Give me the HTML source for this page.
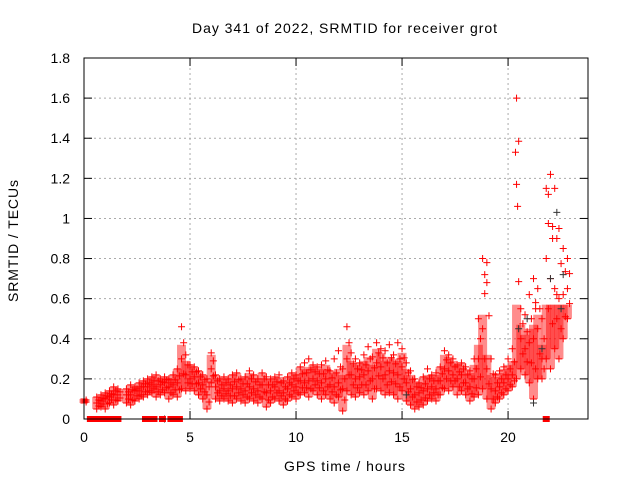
<!DOCTYPE html>
<html><head><meta charset="utf-8"><style>
body{margin:0;background:#fff;}
svg{display:block;font-family:"Liberation Sans",sans-serif;font-size:14px;}
</style></head><body>
<svg id="chart" width="640" height="480">
<text x="192" y="33" textLength="305" lengthAdjust="spacing">Day 341 of 2022, SRMTID for receiver grot</text>
<text transform="translate(18,302) rotate(-90)" textLength="122" lengthAdjust="spacing">SRMTID / TECUs</text>
<text x="284" y="471" textLength="121" lengthAdjust="spacing">GPS time / hours</text>
<g id="grid"></g><g id="band"></g><g id="marks"></g><g id="axes"></g>
</svg>
<script>
const times=[0,0.2,0.4,0.6,0.8,1.0,1.2,1.4,1.6,1.8,2.0,2.2,2.4,2.6,2.8,3.0,3.2,3.4,3.6,3.8,4.0,4.2,4.4,4.6,4.8,5.0,5.2,5.4,5.6,5.8,6.0,6.2,6.4,6.6,6.8,7.0,7.2,7.4,7.6,7.8,8.0,8.2,8.4,8.6,8.8,9.0,9.2,9.4,9.6,9.8,10.0,10.2,10.4,10.6,10.8,11.0,11.2,11.4,11.6,11.8,12.0,12.2,12.4,12.6,12.8,13.0,13.2,13.4,13.6,13.8,14.0,14.2,14.4,14.6,14.8,15.0,15.2,15.4,15.6,15.8,16.0,16.2,16.4,16.6,16.8,17.0,17.2,17.4,17.6,17.8,18.0,18.2,18.4,18.6,18.8,19.0,19.2,19.4,19.6,19.8,20.0,20.2,20.4,20.6,20.8,21.0,21.2,21.4,21.6,21.8,22.0,22.2,22.4,22.6,22.8];
const lowVals=[.08,null,null,.05,.06,.05,.08,.07,.09,null,.08,.07,.09,.10,.11,.12,.13,.11,.12,.13,.10,.12,.11,.15,.14,.15,.14,.12,.10,.05,.18,.10,.09,.10,.09,.08,.10,.09,.08,.10,.09,.08,.10,.06,.08,.10,.09,.07,.09,.11,.10,.12,.13,.11,.14,.12,.10,.12,.10,.08,.11,.04,.14,.12,.11,.13,.12,.14,.10,.15,.14,.12,.13,.12,.10,.14,.09,.07,.05,.06,.07,.09,.10,.09,.12,.15,.14,.16,.12,.14,.12,.09,.11,.12,.15,.10,.05,.08,.10,.12,.14,.16,.20,.25,.22,.18,.10,.20,.20,.30,.25,.35,.30,.40,.50];
const midVals=[.09,null,null,.08,.09,.10,.11,.12,.12,null,.12,.12,.14,.14,.16,.16,.17,.16,.17,.18,.16,.17,.18,.30,.22,.20,.21,.18,.17,.12,.25,.16,.14,.15,.14,.15,.16,.15,.14,.16,.15,.14,.17,.13,.14,.16,.14,.13,.15,.17,.16,.19,.18,.19,.20,.19,.18,.20,.17,.16,.18,.15,.30,.22,.20,.21,.22,.24,.20,.28,.26,.22,.24,.23,.22,.26,.18,.15,.12,.13,.14,.15,.16,.15,.19,.25,.24,.22,.20,.22,.18,.16,.20,.30,.45,.25,.15,.14,.16,.18,.20,.22,1.17,.40,.35,.38,.40,.45,.30,.80,.70,.65,.60,.62,.65];
const highVals=[.10,null,null,.11,.12,.13,.14,.16,.15,null,.15,.17,.16,.18,.19,.20,.21,.22,.20,.21,.20,.22,.25,.46,.32,.27,.26,.24,.22,.20,.33,.22,.20,.21,.20,.22,.23,.20,.21,.24,.22,.20,.23,.21,.20,.21,.22,.19,.21,.23,.22,.26,.28,.30,.27,.26,.27,.29,.24,.30,.34,.25,.46,.33,.30,.28,.32,.36,.31,.38,.35,.34,.37,.32,.38,.35,.28,.24,.20,.18,.21,.25,.22,.23,.26,.34,.32,.30,.27,.28,.26,.24,.30,.50,.80,.78,.30,.22,.24,.26,.30,.35,1.60,.55,.52,.62,.70,.65,.50,1.15,1.22,1.15,.95,.85,.80];
const extraT=[20.35,20.45,21.9,22.1,22.3,18.9,19.0,21.3];
const extraV=[1.33,1.06,1.12,0.90,0.62,0.72,0.68,0.58];
const zeroT=[0.3,0.5,0.7,1.0,1.3,1.6,2.9,3.1,3.3,3.7,4.1,4.3,4.5,21.8];
const darkT=[20.5,20.9,21.2,21.6,22.0,22.3,22.5,22.6,3.8,15.2];
const darkV=[0.45,0.50,0.08,0.35,0.70,1.03,0.55,0.72,0.0,0.12];
const yTicks=[0,0.2,0.4,0.6,0.8,1,1.2,1.4,1.6,1.8];
const xTicks=[0,5,10,15,20];
const yTickLabels=["0","0.2","0.4","0.6","0.8","1","1.2","1.4","1.6","1.8"];
const xTickLabels=["0","5","10","15","20"];

const L=84,R=588,T=58,B=419,XMAX=23.77;
const X=v=>L+v/XMAX*(R-L);
const Y=v=>B-v/1.8*(B-T);
const NS="http://www.w3.org/2000/svg";
function mk(tag,attrs,parent){const e=document.createElementNS(NS,tag);for(const k in attrs)e.setAttribute(k,attrs[k]);document.getElementById(parent).appendChild(e);return e;}
yTicks.forEach((v,i)=>{
  if(i>0&&i<yTicks.length-1){const g=mk('line',{x1:L,x2:R,y1:Y(v),y2:Y(v),stroke:'#aaa','stroke-dasharray':'2,3'},'grid');
  
  }
  const t=mk('text',{x:L-14,y:Y(v)+5,'text-anchor':'end'},'axes');t.textContent=yTickLabels[i];
  
  
  mk('line',{x1:L,x2:L+8,y1:Y(v),y2:Y(v),stroke:'#000'},'axes');
  mk('line',{x1:R,x2:R-8,y1:Y(v),y2:Y(v),stroke:'#000'},'axes');
});
xTicks.forEach((v,i)=>{
  if(i>0){const g=mk('line',{x1:X(v),x2:X(v),y1:T,y2:B,stroke:'#aaa','stroke-dasharray':'2,3'},'grid');
  
  }
  const t=mk('text',{x:X(v),y:B+23,'text-anchor':'middle'},'axes');t.textContent=xTickLabels[i];
  
  
  mk('line',{x1:X(v),x2:X(v),y1:B,y2:B-8,stroke:'#000'},'axes');
  mk('line',{x1:X(v),x2:X(v),y1:T,y2:T+8,stroke:'#000'},'axes');
});
const fr=mk('rect',{x:L,y:T,width:R-L,height:B-T,fill:'none',stroke:'#000'},'axes');


function cross(t,v,col,name){
  const x=X(t),y=Y(v);
  const p=mk('path',{d:`M${x-3.5},${y}H${x+3.5}M${x},${y-3.5}V${y+3.5}`,stroke:col,'stroke-width':1,fill:'none'},'marks');
  
  
}
times.forEach((t,i)=>{
  if(lowVals[i]==null)return;
  const hi=Math.min(highVals[i],Math.min(midVals[i],0.5)+0.07);
  const b=mk('rect',{x:X(t)-4.5,y:Y(hi),width:9,height:Math.max(1,Y(lowVals[i])-Y(hi)),fill:'#f00','fill-opacity':0.45},'band');
  
  
  cross(t,lowVals[i],'#f00','srmtid-point');
  cross(t,midVals[i],'#f00','srmtid-point');
  cross(t,highVals[i],'#f00','srmtid-point');
  cross(t+0.1,(lowVals[i]+midVals[i])/2,'#f00','srmtid-point');
  cross(t+0.1,(midVals[i]+highVals[i])/2,'#f00','srmtid-point');
});
extraT.forEach((t,i)=>cross(t,extraV[i],'#f00','srmtid-point'));
darkT.forEach((t,i)=>cross(t,darkV[i],'#333','secondary-point'));
zeroT.forEach(t=>{
  const r=mk('rect',{x:X(t)-3.5,y:Y(0)-3,width:7,height:6,fill:'#f00'},'marks');
  
  
});
</script>
</body></html>
